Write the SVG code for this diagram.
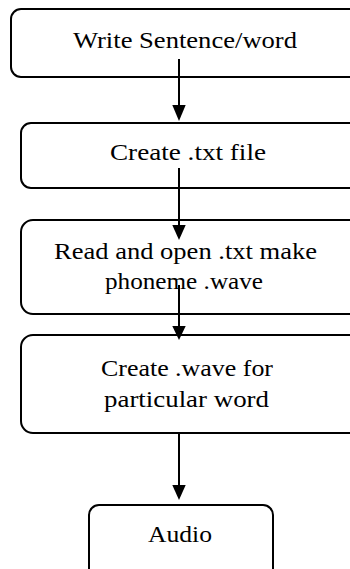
<svg xmlns="http://www.w3.org/2000/svg" width="350" height="569" viewBox="0 0 350 569">
<style>
.box{fill:#ffffff;stroke:#000000;stroke-width:2}
.t{font-family:'Liberation Serif',Tinos,'Times New Roman',Times,serif;font-size:24px;fill:#000000;text-anchor:middle}
.c{stroke:#000000;stroke-width:2;fill:none}
.h{fill:#000000;stroke:none}
</style>
<rect width="350" height="569" fill="#ffffff"/>
<g id="n1">
<rect class="box" x="11" y="9" width="360" height="68" rx="10"/>
<text class="t" font-family="Liberation Serif" x="185" y="48" textLength="224" lengthAdjust="spacingAndGlyphs">Write Sentence/word</text>
</g>
<g id="n2">
<rect class="box" x="21" y="123" width="350" height="65" rx="10"/>
<text class="t" font-family="Liberation Serif" x="188" y="160" textLength="156" lengthAdjust="spacingAndGlyphs">Create .txt file</text>
</g>
<g id="n3">
<rect class="box" x="21" y="220" width="350" height="94" rx="12"/>
<text class="t" font-family="Liberation Serif" x="185.5" y="259" textLength="263" lengthAdjust="spacingAndGlyphs">Read and open .txt make</text>
<text class="t" font-family="Liberation Serif" x="184" y="289" textLength="158" lengthAdjust="spacingAndGlyphs">phoneme .wave</text>
</g>
<g id="n4">
<rect class="box" x="21" y="335" width="350" height="98" rx="12"/>
<text class="t" font-family="Liberation Serif" x="187" y="376" textLength="172" lengthAdjust="spacingAndGlyphs">Create .wave for</text>
<text class="t" font-family="Liberation Serif" x="186.5" y="407" textLength="165" lengthAdjust="spacingAndGlyphs">particular word</text>
</g>
<g id="n5">
<rect class="box" x="89" y="505" width="184" height="80" rx="10"/>
<text class="t" font-family="Liberation Serif" x="180" y="542" textLength="64" lengthAdjust="spacingAndGlyphs">Audio</text>
</g>
<g id="connectors">
<line class="c" x1="179" y1="59" x2="179" y2="106"/>
<polygon class="h" points="172.3,105 185.7,105 179,121"/>
<line class="c" x1="179" y1="168" x2="179" y2="226"/>
<polygon class="h" points="172.3,225 185.7,225 179,240"/>
<line class="c" x1="179" y1="285" x2="179" y2="327"/>
<polygon class="h" points="172.3,326 185.7,326 179,340"/>
<line class="c" x1="179" y1="433" x2="179" y2="486"/>
<polygon class="h" points="172.3,485 185.7,485 179,500"/>
</g>
</svg>
